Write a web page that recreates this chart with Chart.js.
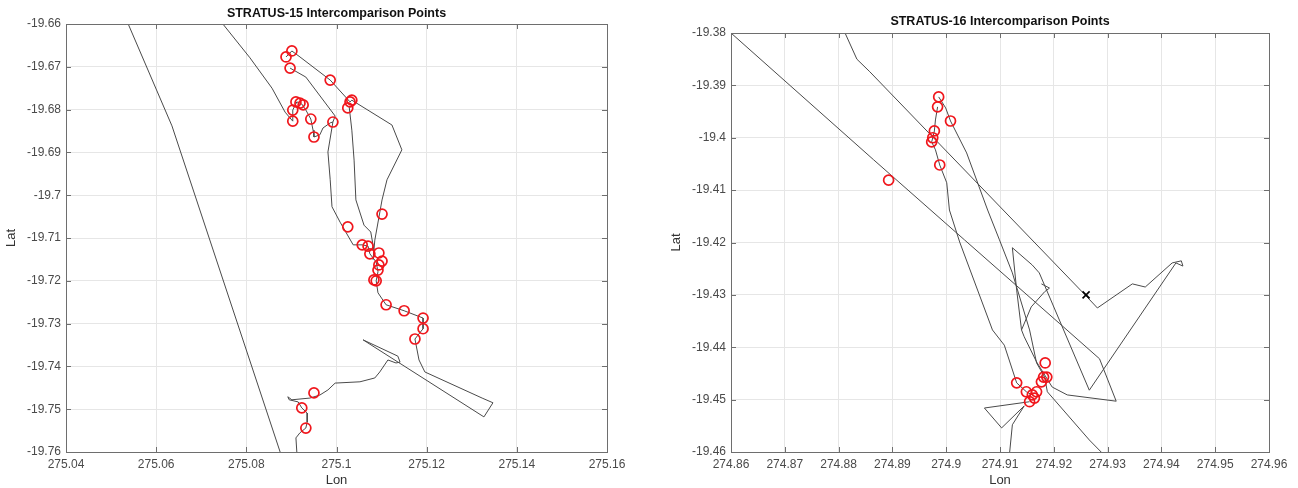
<!DOCTYPE html>
<html><head><meta charset="utf-8">
<script src="https://cdn.jsdelivr.net/npm/chart.js@4.4.0/dist/chart.umd.min.js"></script>
<style>
html,body{margin:0;padding:0;background:#fff;width:1298px;height:488px;overflow:hidden}
#w1{position:absolute;left:0;top:0;width:640px;height:488px}
#w2{position:absolute;left:650px;top:0;width:648px;height:488px}
</style></head><body>
<div id="w1"><canvas id="c1" width="640" height="488"></canvas></div>
<div id="w2"><canvas id="c2" width="648" height="488"></canvas></div>
<script>
// ---------- STRATUS-15 ----------
const s15LonTicks = [275.04, 275.06, 275.08, 275.1, 275.12, 275.14, 275.16];
const s15LonLabels = ['275.04','275.06','275.08','275.1','275.12','275.14','275.16'];
const s15LatTicks = [-19.76,-19.75,-19.74,-19.73,-19.72,-19.71,-19.7,-19.69,-19.68,-19.67,-19.66];
const s15LatLabels = ['-19.76','-19.75','-19.74','-19.73','-19.72','-19.71','-19.7','-19.69','-19.68','-19.67','-19.66'];

const s15PointLon = [275.0901,275.0888,275.0897,275.0986,275.0910,275.0919,275.0926,275.0903,275.0903,275.0943,275.0950,275.0992,275.1030,275.1034,275.1025,
  275.1101,275.1025,275.1057,275.1070,275.1074,275.1094,275.1101,275.1094,275.1092,275.1083,275.1088,275.1110,275.1150,275.1192,275.1192,275.1174,
  275.0950,275.0923,275.0932];
const s15PointLat = [-19.6663,-19.6677,-19.6703,-19.6731,-19.6782,-19.6785,-19.6789,-19.6801,-19.6827,-19.6822,-19.6864,-19.6829,-19.6782,-19.6778,-19.6796,
  -19.7044,-19.7074,-19.7116,-19.7119,-19.7137,-19.7135,-19.7154,-19.7163,-19.7175,-19.7198,-19.7200,-19.7256,-19.7270,-19.7287,-19.7312,-19.7336,
  -19.7462,-19.7497,-19.7544];

const s15TrackALon = [275.0538, 275.0635, 275.0875];
const s15TrackALat = [-19.66, -19.6838, -19.76];

const s15TrackBLon = [275.0748,275.0808,275.0857,275.0886,275.0903,275.0903,275.0912,275.0923,275.0932,275.0943,275.0948,275.0950,275.0963,275.0970,275.0986,275.0992];
const s15TrackBLat = [-19.66,-19.6679,-19.6750,-19.6806,-19.6827,-19.6801,-19.6782,-19.6787,-19.6801,-19.6822,-19.6848,-19.6864,-19.6859,-19.6843,-19.6831,-19.6829];

const s15TrackCLon = [275.0897,275.0932,275.0997,275.0992,275.0981,275.0986,275.0990,275.1008,275.1037,275.1057,275.1070,275.1074,275.1088,275.1092,275.1088,275.1092,275.1110,275.1150,275.1192,275.1192,275.1174,275.1183,275.1196,275.1323,275.1347,275.1327];
const s15TrackCLat = [-19.6703,-19.6724,-19.6815,-19.6829,-19.6899,-19.6964,-19.7027,-19.7063,-19.7116,-19.7116,-19.7119,-19.7137,-19.7156,-19.7179,-19.7200,-19.7228,-19.7256,-19.7270,-19.7287,-19.7312,-19.7336,-19.7385,-19.7413,-19.7474,-19.7485,-19.7518];

const s15TrackDLon = [275.1327,275.1059,275.1136,275.1141,275.1132,275.1114,275.1096,275.1085,275.1052,275.0997,275.0981,275.0963,275.0941,275.0901,275.0892,275.0895,275.0915,275.0923,275.0935,275.0935,275.0932,275.0919,275.0910,275.0912];
const s15TrackDLat = [-19.7518,-19.7338,-19.7376,-19.7390,-19.7392,-19.7385,-19.7413,-19.7427,-19.7436,-19.7439,-19.7455,-19.7467,-19.7474,-19.7478,-19.7471,-19.7478,-19.7483,-19.7497,-19.7509,-19.7530,-19.7544,-19.7555,-19.7567,-19.76];

const s15TrackELon = [275.0888,275.0901,275.0919,275.0986,275.1030,275.1034,275.1123,275.1145,275.1112,275.1101,275.1085,275.1081];
const s15TrackELat = [-19.6677,-19.6663,-19.6677,-19.6731,-19.6782,-19.6778,-19.6836,-19.6894,-19.6964,-19.7011,-19.7105,-19.7151];

const s15TrackFLon = [275.1028,275.1034,275.1039,275.1043,275.1061,275.1076,275.1083];
const s15TrackFLat = [-19.6792,-19.6848,-19.6918,-19.7011,-19.7070,-19.7086,-19.7128];

// ---------- STRATUS-16 ----------
const s16LonTicks = [274.86,274.87,274.88,274.89,274.9,274.91,274.92,274.93,274.94,274.95,274.96];
const s16LonLabels = ['274.86','274.87','274.88','274.89','274.9','274.91','274.92','274.93','274.94','274.95','274.96'];
const s16LatTicks = [-19.46,-19.45,-19.44,-19.43,-19.42,-19.41,-19.4,-19.39,-19.38];
const s16LatLabels = ['-19.46','-19.45','-19.44','-19.43','-19.42','-19.41','-19.4','-19.39','-19.38'];

const s16PointLon = [274.8986,274.8984,274.9008,274.8978,274.8975,274.8973,274.8988,274.8893,
  274.9131,274.9149,274.9155,274.9164,274.9168,274.9177,274.9181,274.9187,274.9184,274.9160];
const s16PointLat = [-19.3922,-19.3941,-19.3968,-19.3987,-19.4000,-19.4008,-19.4052,-19.4081,
  -19.4468,-19.4485,-19.4504,-19.4497,-19.4485,-19.4466,-19.4457,-19.4457,-19.4430,-19.4491];

const s16EndLon = [274.926];
const s16EndLat = [-19.430];

const s16TrackALon = [274.8812,274.8834,274.8858,274.9260,274.9281,274.9346,274.9370,274.9420,274.9437,274.9440,274.9427,274.9266,274.9173,274.9160,274.9123,274.9131,274.9140,274.9145,274.9168,274.9197,274.9225,274.9316,274.9285,274.9210,274.9034,274.8865,274.8600];
const s16TrackALat = [-19.3800,-19.3850,-19.3874,-19.4302,-19.4325,-19.4279,-19.4285,-19.4239,-19.4235,-19.4245,-19.4239,-19.4482,-19.4258,-19.4243,-19.4210,-19.4291,-19.4367,-19.4380,-19.4428,-19.4476,-19.4491,-19.4503,-19.4422,-19.4354,-19.4195,-19.4042,-19.3800];

const s16TrackBLon = [274.8986,274.8999,274.9008,274.9038,274.9077,274.9099,274.9123,274.9155,274.9168,274.9183,274.9188,274.9266,274.9288];
const s16TrackBLat = [-19.3922,-19.3943,-19.3968,-19.4029,-19.4138,-19.4195,-19.4258,-19.4367,-19.4430,-19.4457,-19.4485,-19.4577,-19.4600];

const s16TrackCLon = [274.8984,274.8980,274.8978,274.8975,274.8973,274.8980,274.8988,274.9001,274.9006,274.9025,274.9086,274.9108,274.9131,274.9149,274.9160];
const s16TrackCLat = [-19.3941,-19.3966,-19.3987,-19.4000,-19.4008,-19.4023,-19.4052,-19.4086,-19.4138,-19.4199,-19.4367,-19.4396,-19.4468,-19.4485,-19.4491];

const s16TrackDLon = [274.9177,274.9192,274.9183,274.9158,274.9140];
const s16TrackDLat = [-19.4279,-19.4287,-19.4294,-19.4323,-19.4367];

const s16TrackELon = [274.9155,274.9071,274.9103,274.9145,274.9123,274.9118];
const s16TrackELat = [-19.4504,-19.4516,-19.4554,-19.4512,-19.4548,-19.4600];

// ---------- helpers ----------
const FONT = '"Liberation Sans", Arial, Helvetica, sans-serif';
const zip = (xs, ys) => xs.map((x, i) => ({x: x, y: ys[i]}));
const labelFor = (vals, labels) => (v) => {
  const i = vals.findIndex(t => Math.abs(t - v) < 1e-7);
  return i >= 0 ? labels[i] : '';
};
const lineSet = (xs, ys) => ({
  data: zip(xs, ys), showLine: true, pointRadius: 0, borderColor: '#4a4a4a',
  borderWidth: 1, tension: 0, fill: false
});
const circleSet = (xs, ys) => ({
  data: zip(xs, ys), showLine: false, pointStyle: 'circle', pointRadius: 5,
  borderColor: '#f0161c', backgroundColor: 'rgba(0,0,0,0)', pointBorderWidth: 1.7
});

const framePlugin = {
  id: 'frame',
  afterDraw(chart, args, opts) {
    const {ctx, chartArea: a, scales} = chart;
    ctx.save();
    ctx.strokeStyle = '#6e6e6e';
    ctx.lineWidth = 1;
    ctx.strokeRect(Math.round(a.left) + 0.5, Math.round(a.top) + 0.5,
      Math.round(a.right - a.left), Math.round(a.bottom - a.top));
    ctx.beginPath();
    scales.x.ticks.forEach(t => {
      const px = Math.round(scales.x.getPixelForValue(t.value)) + 0.5;
      ctx.moveTo(px, a.bottom); ctx.lineTo(px, a.bottom - 5);
      ctx.moveTo(px, a.top); ctx.lineTo(px, a.top + 5);
    });
    scales.y.ticks.forEach(t => {
      const py = Math.round(scales.y.getPixelForValue(t.value)) + 0.5;
      ctx.moveTo(a.left, py); ctx.lineTo(a.left + 5, py);
      ctx.moveTo(a.right, py); ctx.lineTo(a.right - 5, py);
    });
    ctx.stroke();
    ctx.fillStyle = '#111';
    ctx.font = 'bold 12.5px ' + FONT;
    ctx.textAlign = 'center';
    ctx.textBaseline = 'middle';
    ctx.fillText(opts.text, (a.left + a.right) / 2, opts.y);
    ctx.restore();
  }
};

function makeChart(id, cfg) {
  const tickFont = {family: FONT, size: 12};
  return new Chart(document.getElementById(id), {
    type: 'scatter',
    data: {datasets: cfg.datasets},
    options: {
      responsive: false, animation: false, events: [],
      layout: {padding: cfg.padding},
      plugins: {legend: {display: false}, tooltip: {enabled: false}, frame: {text: cfg.title, y: cfg.titleY}},
      scales: {
        x: {
          type: 'linear', min: cfg.xTicks[0], max: cfg.xTicks[cfg.xTicks.length - 1],
          afterBuildTicks: s => { s.ticks = cfg.xTicks.map(v => ({value: v})); },
          afterFit: s => { s.height = 36; },
          grid: {color: '#e6e6e6', drawTicks: false},
          border: {display: false},
          ticks: {padding: 5, color: '#4a4a4a', font: tickFont, maxRotation: 0, autoSkip: false,
                  callback: labelFor(cfg.xTicks, cfg.xLabels)},
          title: {display: true, text: 'Lon', color: '#333', font: {family: FONT, size: 13}, padding: {top: 0, bottom: 0}}
        },
        y: {
          type: 'linear', min: cfg.yTicks[0], max: cfg.yTicks[cfg.yTicks.length - 1],
          afterBuildTicks: s => { s.ticks = cfg.yTicks.map(v => ({value: v})); },
          afterFit: s => { s.width = cfg.yWidth; },
          grid: {color: '#e6e6e6', drawTicks: false},
          border: {display: false},
          ticks: {padding: 5, color: '#4a4a4a', font: tickFont, autoSkip: false,
                  callback: labelFor(cfg.yTicks, cfg.yLabels)},
          title: {display: true, text: 'Lat', color: '#333', font: {family: FONT, size: 13}, padding: {top: cfg.latPad, bottom: 0}}
        }
      }
    },
    plugins: [framePlugin]
  });
}

makeChart('c1', {
  title: 'STRATUS-15 Intercomparison Points', titleY: 14,
  padding: {left: 0, right: 33, top: 24, bottom: 0}, yWidth: 66, latPad: 4,
  xTicks: s15LonTicks, xLabels: s15LonLabels, yTicks: s15LatTicks, yLabels: s15LatLabels,
  datasets: [
    circleSet(s15PointLon, s15PointLat),
    lineSet(s15TrackALon, s15TrackALat),
    lineSet(s15TrackBLon, s15TrackBLat),
    lineSet(s15TrackCLon, s15TrackCLat),
    lineSet(s15TrackDLon, s15TrackDLat),
    lineSet(s15TrackELon, s15TrackELat),
    lineSet(s15TrackFLon, s15TrackFLat)
  ]
});

makeChart('c2', {
  title: 'STRATUS-16 Intercomparison Points', titleY: 22,
  padding: {left: 0, right: 29, top: 33, bottom: 0}, yWidth: 81, latPad: 19,
  xTicks: s16LonTicks, xLabels: s16LonLabels, yTicks: s16LatTicks, yLabels: s16LatLabels,
  datasets: [
    circleSet(s16PointLon, s16PointLat),
    {data: zip(s16EndLon, s16EndLat), showLine: false, pointStyle: 'crossRot', pointRadius: 5,
     borderColor: '#000', pointBorderWidth: 1.6},
    lineSet(s16TrackALon, s16TrackALat),
    lineSet(s16TrackBLon, s16TrackBLat),
    lineSet(s16TrackCLon, s16TrackCLat),
    lineSet(s16TrackDLon, s16TrackDLat),
    lineSet(s16TrackELon, s16TrackELat)
  ]
});
</script>
</body></html>
